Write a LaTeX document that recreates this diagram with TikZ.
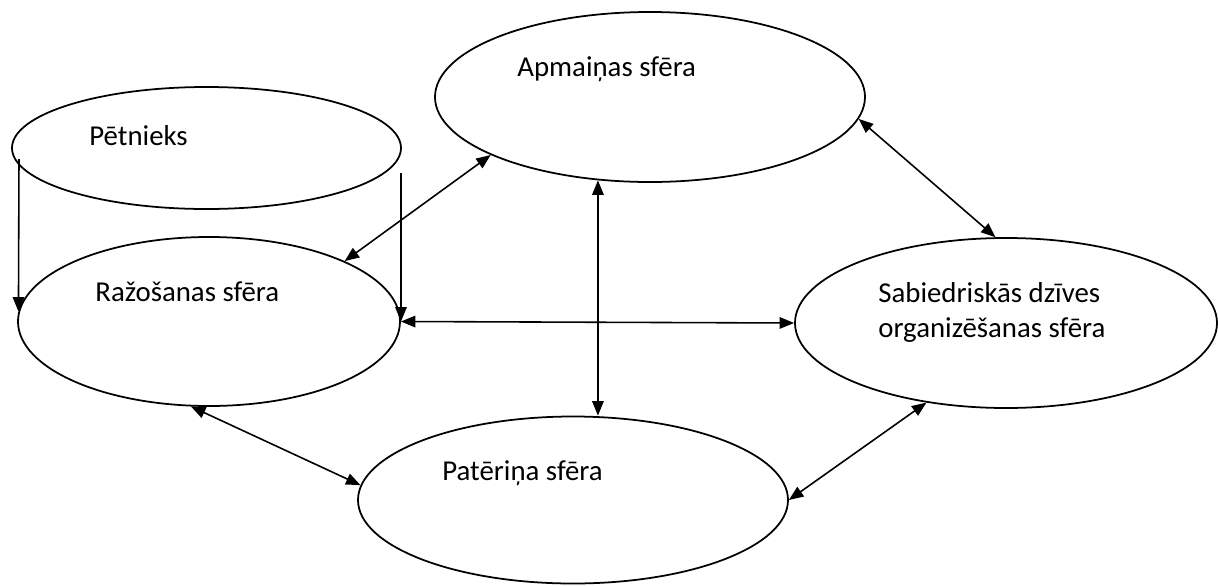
\documentclass[tikz,border=0pt]{standalone}
\usepackage{fontspec}
\setmainfont{Carlito}
\usetikzlibrary{arrows.meta, shapes.geometric}

\begin{document}
\begin{tikzpicture}[x=0.2mm,y=-0.2mm,
  sphere/.style={draw,ellipse,inner sep=0pt,line width=1pt},
  lbl/.style={anchor=base west,inner sep=0pt,font=\fontsize{16.4}{19.4}\selectfont},
  link/.style={line width=0.9pt,{Triangle[length=2.9mm,width=2.3mm]}-{Triangle[length=2.9mm,width=2.3mm]}},
  down/.style={line width=0.9pt,-{Triangle[length=2.9mm,width=2.3mm]}}]
\useasboundingbox (0,0) rectangle (1218,585);
% Draw the five spheres
\node[sphere,minimum width=77.8mm,minimum height=24.4mm] (pet) at (206.5,148) {};
\node[sphere,minimum width=76.4mm,minimum height=33.8mm] (raz) at (209,321.5) {};
\node[sphere,minimum width=86mm,minimum height=34mm] (apm) at (650,97) {};
\node[sphere,minimum width=84.4mm,minimum height=34mm] (sab) at (1006,323) {};
\node[sphere,minimum width=86mm,minimum height=33.4mm] (pat) at (573,500) {};
% Labels sit left of centre
\node[lbl] (pet-lbl) at (89,145) {Pētnieks};
\node[lbl] (raz-lbl) at (95,301) {Ražošanas sfēra};
\node[lbl] (apm-lbl) at (517,76) {Apmaiņas sfēra};
\node[lbl] (pat-lbl) at (442,480) {Patēriņa sfēra};
\node[lbl,align=left] (sab-lbl) at (878,337) {Sabiedriskās dzīves\\organizēšanas sfēra};
% Researcher feeds production
\coordinate (pl) at (19,159);
\coordinate (pr) at (401,173);
\draw[down] (pl) -- (raz.177);
\draw[down] (pr) -- (pr |- raz.east);
% Two-way links between spheres
\draw[link] (raz.east) -- (sab.west);
\draw[link] (apm.200.6) -- (raz.24.7);
\draw[link] (apm.238) -- (apm.238 |- pat.north);
\draw[link] (raz.258.9) -- (pat.176);
\draw[link] (pat.east) -- (sab.225);
\draw[link] (apm.354) -- (sab.97.2);
\end{tikzpicture}
\end{document}
